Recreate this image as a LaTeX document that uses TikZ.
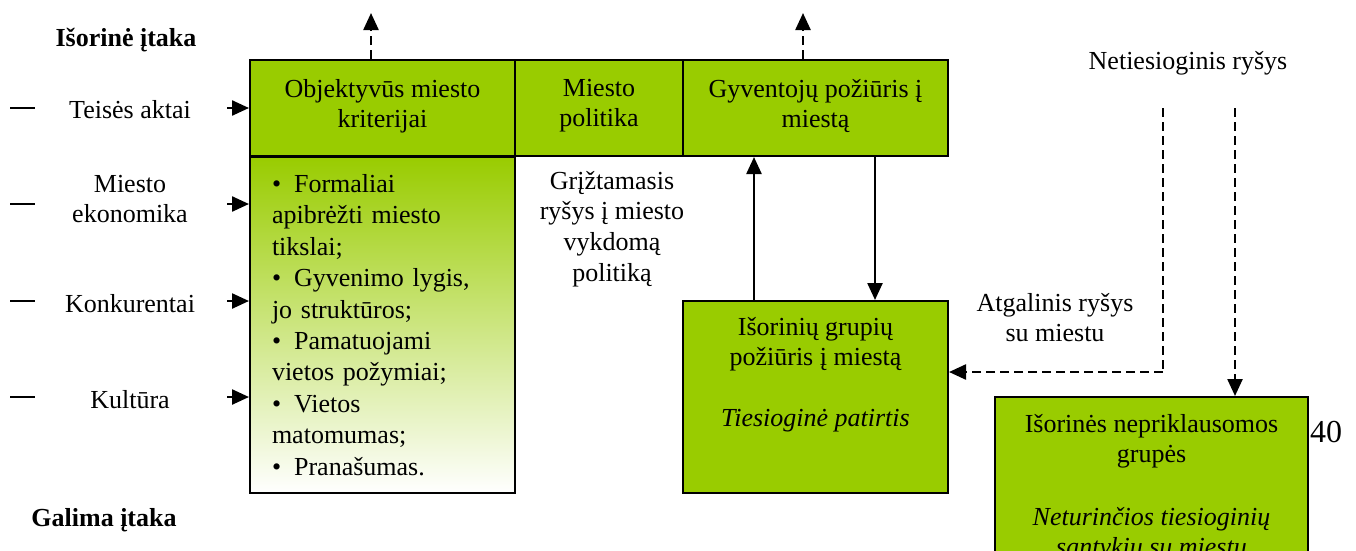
\documentclass[tikz,border=0pt]{standalone}
\usepackage{fontspec}
\setmainfont{Liberation Serif}
\usetikzlibrary{arrows.meta}
\definecolor{leaf}{HTML}{99CC00}

\begin{document}
\begin{tikzpicture}[x=1pt,y=-1pt,
  font=\fontsize{26}{30}\selectfont,
  every node/.style={inner sep=0pt},
  hdr/.style={draw=black, line width=2pt, fill=leaf},
  arr/.style={line width=2.4pt, -{Triangle[length=17pt,width=15pt]}},
  darr/.style={line width=2.4pt, dash pattern=on 9pt off 5pt, -{Triangle[length=17pt,width=15pt]}},
  dln/.style={line width=2pt, dash pattern=on 9pt off 5pt},
  tick/.style={line width=2.5pt},
  bold/.style={font=\fontsize{26}{30}\selectfont\bfseries}
]
\path[use as bounding box, clip] (0,0) rectangle (1356,550);

% headings
\node[bold] (ext) at (126,40) {Išorinė įtaka};
\node[bold] (pos) at (104,520) {Galima įtaka};

% top row of boxes
\node[hdr, minimum width=265, minimum height=96] (obj) at (382.5,108) {};
\node[hdr, minimum width=168, minimum height=96] (pol) at (599,108) {};
\node[hdr, minimum width=265, minimum height=96] (gyv) at (815.5,108) {};
\node[align=center] (objt) at (382.5,106) {Objektyvūs miesto\\kriterijai};
\node[align=center] (polt) at (599,106) {Miesto\\politika};
\node[align=center] (gyvt) at (815.5,106) {Gyventojų požiūris į\\miestą};

% list of criteria
\node[draw=black, line width=2pt, top color=leaf, bottom color=white,
      minimum height=336, text width=221, inner xsep=22pt, align=left,
      font=\fontsize{26}{31.4}\selectfont, anchor=north] (list) at (382.5,156)
  {•\hspace{0.5em}Formaliai\\apibrėžti miesto\\tikslai;\\
   •\hspace{0.5em}Gyvenimo lygis,\\jo struktūros;\\
   •\hspace{0.5em}Pamatuojami\\vietos požymiai;\\
   •\hspace{0.5em}Vietos\\matomumas;\\
   •\hspace{0.5em}Pranašumas.};

% external influences
\node (f1) at (130,110) {Teisės aktai};
\node[align=center] (f2) at (130,199) {Miesto\\ekonomika};
\node (f3) at (130,304) {Konkurentai};
\node (f4) at (130,400) {Kultūra};
\foreach \y in {108,204,301,397} {
  \draw[tick] (10,\y) -- (35,\y);
}
\coordinate (s1) at (227,108);
\coordinate (s2) at (227,204);
\coordinate (s3) at (227,301);
\coordinate (s4) at (227,397);
\draw[arr] (s1) -- (s1 -| obj.west);
\draw[arr] (s2) -- (s2 -| list.west);
\draw[arr] (s3) -- (s3 -| list.west);
\draw[arr] (s4) -- (s4 -| list.west);

% outgoing dashed arrows
\coordinate (u1) at (371,13);
\coordinate (u2) at (803,13);
\draw[darr] (obj.north -| u1) -- (u1);
\draw[darr] (gyv.north -| u2) -- (u2);

\node[align=center, font=\fontsize{26}{30.7}\selectfont] (fb) at (612,229)
  {Grįžtamasis\\ryšys į miesto\\vykdomą\\politiką};

% external groups
\node[hdr, minimum width=265, minimum height=192, anchor=north] (isor) at (815.5,300) {};
\node[align=center] (isort) at (815.5,375)
  {Išorinių grupių\\požiūris į miestą\\[31pt]\textit{Tiesioginė patirtis}};

\coordinate (c1) at (754,0);
\coordinate (c2) at (875,0);
\draw[arr] (c1 |- isor.north) -- (c1 |- gyv.south);
\draw[arr] (c2 |- gyv.south) -- (c2 |- isor.north);

\node[hdr, minimum width=313, minimum height=220, anchor=north] (grp) at (1151.5,396) {};
\node[align=center] (grpt) at (1151.5,488)
  {Išorinės nepriklausomos\\grupės\\[33pt]\textit{Neturinčios tiesioginių}\\\textit{santykių su miestu}};

% indirect links
\node (ind) at (1188,63) {Netiesioginis ryšys};
\node[align=center] (back) at (1055,318) {Atgalinis ryšys\\su miestu};
\coordinate (n1) at (1163,108);
\coordinate (n2) at (1235,108);
\coordinate (k) at (1163,372);
\draw[dln] (n1) -- (k);
\draw[darr] (k) -- (k -| isor.east);
\draw[darr] (n2) -- (n2 |- grp.north);

\node[font=\fontsize{32}{36}\selectfont] (pg) at (1326,432) {40};
\end{tikzpicture}
\end{document}
